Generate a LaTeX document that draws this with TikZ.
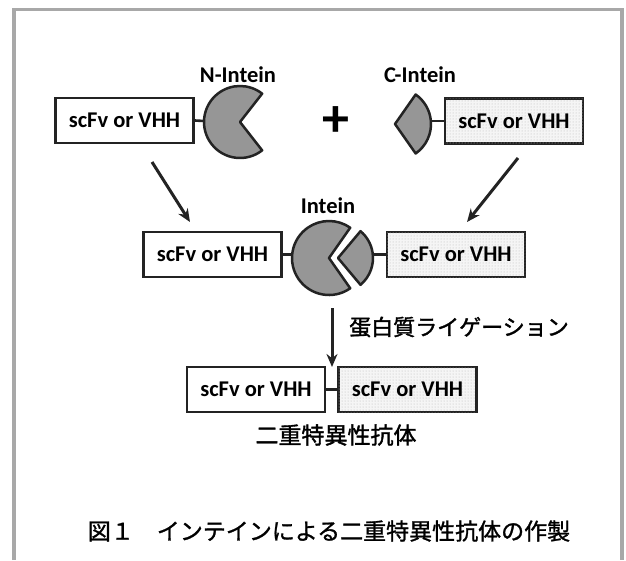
\documentclass[tikz,border=0pt]{standalone}
\usepackage{fontspec}
\setmainfont{Carlito}
\newfontfamily\jp[FakeBold=1.2]{Noto Sans CJK JP}
\newfontfamily\jpbold[FakeBold=1.6]{Noto Sans CJK JP}
\usetikzlibrary{arrows.meta,patterns}

\definecolor{framegray}{RGB}{168,168,168}
\definecolor{inteingray}{RGB}{150,150,150}
\definecolor{ink}{RGB}{35,35,35}

\tikzset{
  fvbox/.style={draw=ink, line width=2.8pt, fill=white, minimum width=138pt,
    minimum height=45pt, inner sep=0pt, font=\fontsize{22.5}{24}\selectfont\bfseries},
  fvdot/.style={fvbox, fill=black!4,
    postaction={pattern=dots, pattern color=black!28}},
  piece/.style={draw=ink, line width=2.5pt, fill=inteingray, line join=round},
  linker/.style={draw=ink, line width=2.6pt},
  flow/.style={draw=ink, line width=3pt, -{Stealth[length=13pt,width=11pt]}},
  tag/.style={font=\fontsize{22.5}{24}\selectfont\bfseries, inner sep=0pt},
  jplabel/.style={font=\fontsize{#1}{25}\selectfont\jpbold, inner sep=0pt},
}

\begin{document}
\begin{tikzpicture}[x=1pt, y=-1pt]
\useasboundingbox (0,0) rectangle (626,560);
\fill[white] (0,0) rectangle (626,560);

% open frame (no bottom edge)
\draw[framegray, line width=3.5pt] (14,560) -- (14,9.5) -- (622,9.5) -- (622,560);

% ---- top row: fragments before ligation
\node[fvbox] (fvA) at (124.5,120.5) {scFv or VHH};
\fill[piece] (240,122) -- ++(52:36) arc[start angle=52, end angle=308, radius=36] -- cycle;
\coordinate (nL) at (204,121);
\node[tag] (nlab) at (238,75) {N-Intein};
\draw[linker] (fvA.east) -- (nL);

\node[font=\fontsize{54}{56}\selectfont\bfseries, inner sep=0pt] (plus) at (336,122) {+};

\fill[piece] (395,124) -- ++(55:36) arc[start angle=55, end angle=-55, radius=36] -- cycle;
\coordinate (cR) at (431,121);
\node[tag] (clab) at (420,75) {C-Intein};
\node[fvdot] (fvB) at (514,121) {scFv or VHH};
\draw[linker] (cR) -- (fvB.west);

% ---- arrows to the spliced complex
\coordinate (a1s) at (152,162);
\coordinate (a1e) at (190,222);
\coordinate (a2s) at (518,158);
\coordinate (a2e) at (467,222);
\draw[flow] (a1s) -- (a1e);
\draw[flow] (a2s) -- (a2e);

% ---- middle row: assembled intein
\node[fvbox] (fvC) at (212.5,254.5) {scFv or VHH};
\fill[piece] (329,258) -- ++(55:37) arc[start angle=55, end angle=305, radius=37] -- cycle;
\coordinate (iL) at (292,254.5);
\fill[piece] (338,258) -- ++(50:35) arc[start angle=50, end angle=-50, radius=35] -- cycle;
\coordinate (iR) at (373,254.5);
\node[tag] (ilab) at (328,206) {Intein};
\node[fvdot] (fvD) at (456,254.5) {scFv or VHH};
\draw[linker] (fvC.east) -- (iL);
\draw[linker] (iR) -- (fvD.west);

% ---- ligation step
\coordinate (a3s) at (332,308);
\coordinate (a3e) at (332,367);
\draw[flow] (a3s) -- (a3e);
\node[jplabel=22, anchor=west] (lig) at (349,327) {蛋白質ライゲーション};

% ---- bottom row: bispecific antibody
\node[fvbox] (fvE) at (256,389.5) {scFv or VHH};
\node[fvdot] (fvF) at (407.5,389.5) {scFv or VHH};
\draw[linker] (fvE.east) -- (fvF.west);
\node[jplabel=23] (bsab) at (336,435) {二重特異性抗体};

% ---- caption
\node[font=\fontsize{23}{25}\selectfont\jp, inner sep=0pt] (cap) at (329,531)
  {図１　インテインによる二重特異性抗体の作製};
\end{tikzpicture}
\end{document}
